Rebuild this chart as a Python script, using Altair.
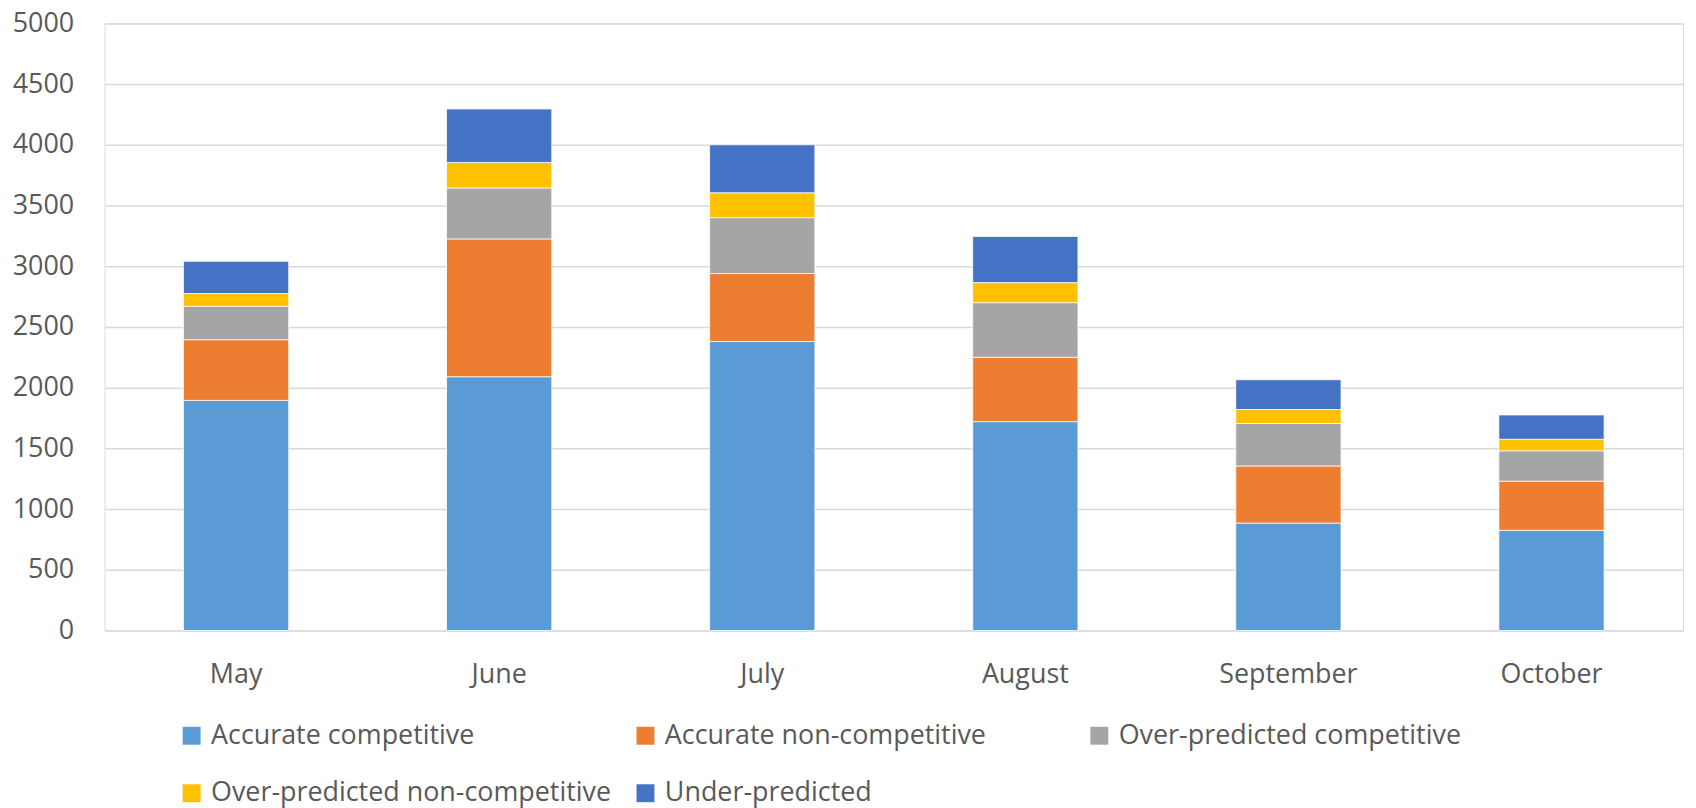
import altair as alt
import pandas as pd

months = ["May", "June", "July", "August", "September", "October"]
series = ["Accurate competitive", "Accurate non-competitive", "Over-predicted competitive",
          "Over-predicted non-competitive", "Under-predicted"]
accurate_competitive = [1895, 2090, 2380, 1720, 885, 825]
accurate_non_competitive = [500, 1135, 560, 530, 470, 405]
over_predicted_competitive = [275, 420, 460, 450, 350, 250]
over_predicted_non_competitive = [105, 210, 205, 165, 115, 95]
under_predicted = [265, 440, 395, 380, 245, 200]
colors = ["#5B9BD5", "#ED7D31", "#A5A5A5", "#FFC000", "#4472C4"]

values = [accurate_competitive, accurate_non_competitive, over_predicted_competitive,
          over_predicted_non_competitive, under_predicted]
rows = []
for si, (name, vals) in enumerate(zip(series, values)):
    for m, v in zip(months, vals):
        rows.append({"month": m, "series": name, "value": v, "order": si})
df = pd.DataFrame(rows)

FONT = "Open Sans"
FS = 27

chart = alt.Chart(df).mark_bar(stroke="white", strokeWidth=0.75).encode(
    x=alt.X("month:N", sort=months, title=None,
            scale=alt.Scale(paddingInner=0.6, paddingOuter=0.3),
            axis=alt.Axis(labelAngle=0, labelFont=FONT, labelFontSize=FS, labelColor="#595959",
                          labelBaseline="alphabetic", labelPadding=52, ticks=False, tickSize=0,
                          domain=False, grid=False)),
    y=alt.Y("value:Q", title=None, stack="zero",
            scale=alt.Scale(domain=[0, 5000], nice=False),
            axis=alt.Axis(values=list(range(0, 5001, 500)), format="d", labelFont=FONT,
                          labelFontSize=FS, labelColor="#595959", labelPadding=31, ticks=False,
                          tickSize=0, domain=False, grid=True, gridColor="#D9D9D9", gridWidth=1.5)),
    color=alt.Color("series:N", sort=series,
                    scale=alt.Scale(domain=series, range=colors),
                    legend=alt.Legend(title=None, orient="none", legendX=74, legendY=702,
                                      direction="horizontal", columns=3, gridAlign="all",
                                      symbolType="square", symbolSize=324, symbolStrokeWidth=0,
                                      labelFont=FONT, labelFontSize=FS, labelColor="#595959",
                                      labelOffset=6, columnPadding=20, rowPadding=30,
                                      padding=0, labelLimit=1000)),
    order=alt.Order("order:Q", sort="ascending"),
).properties(
    width=1586, height=610,
    autosize=alt.AutoSizeParams(type="none"),
    padding={"left": 97, "top": 13.5, "right": 5, "bottom": 200},
).configure_view(stroke=None).configure(background="white")

chart.save("out.html", embed_options={"renderer": "svg", "actions": False})
